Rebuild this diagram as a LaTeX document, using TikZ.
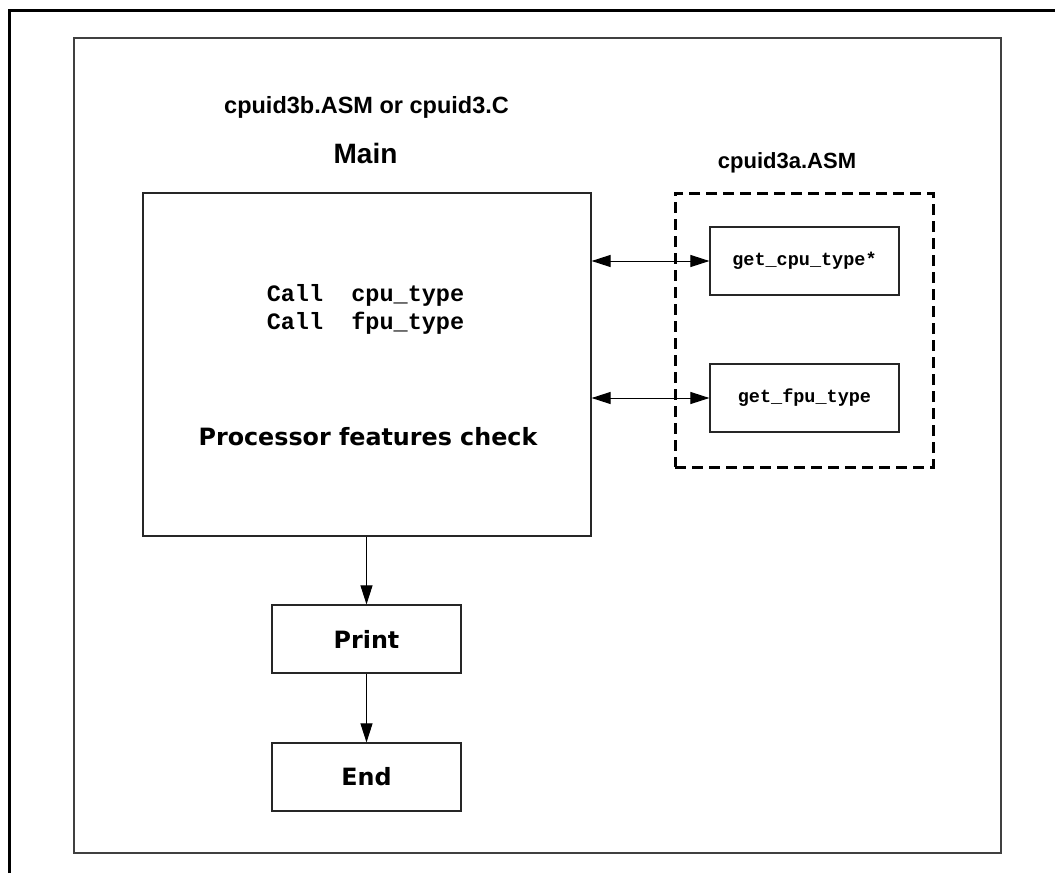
\documentclass[tikz,border=0pt]{standalone}
\usepackage{fontspec}
\setmainfont{Liberation Sans}
\setmonofont{Liberation Mono}
\newfontfamily\dvfont{DejaVu Sans}
\usetikzlibrary{arrows.meta}
\begin{document}
\begin{tikzpicture}[x=1pt,y=-1pt,
  box/.style={draw=black!85,line width=1.2pt,inner sep=0pt},
  flow/.style={draw,line width=1pt,-{Triangle[length=19pt,width=12pt]}},
  both/.style={draw,line width=1pt,{Triangle[length=19pt,width=12pt]}-{Triangle[length=19pt,width=12pt]}},
  title/.style={font=\fontsize{22}{25}\selectfont\bfseries},
  monotxt/.style={font=\fontsize{23.5}{28}\selectfont\ttfamily\bfseries,align=center},
  smallmono/.style={font=\fontsize{18.5}{22}\selectfont\ttfamily\bfseries},
  dvtxt/.style={font=\fontsize{23.8}{26}\selectfont\dvfont\bfseries}]
\useasboundingbox (0,0) rectangle (1055,873);
% outer partial frame
\draw[line width=3pt] (9,873) -- (9,10) -- (1055,10);
% inner frame
\draw[draw=black!75,line width=1.5pt] (74,38) rectangle (1001,853);
% titles
\node[font=\fontsize{23.5}{27}\selectfont\bfseries] (t1) at (366.5,107) {cpuid3b.ASM or cpuid3.C};
\node[font=\fontsize{28}{32}\selectfont\bfseries] (t2) at (365.5,153) {Main};
\node[title] (t3) at (787,163) {cpuid3a.ASM};
% main box
\node[box,minimum width=448pt,minimum height=343pt] (main) at (367,364.5) {};
\node[monotxt] (calls) at (365.5,309) {Call\ \ cpu\_type\\Call\ \ fpu\_type};
\node[dvtxt] (pfc) at (368,437) {Processor features check};
% dashed module box
\node[draw,line width=3pt,dash pattern=on 11pt off 6pt,minimum width=258pt,minimum height=274pt] (mod) at (804,330) {};
\node[box,minimum width=189pt,minimum height=68pt,smallmono] (cpu) at (804.5,261) {get\_cpu\_type*};
\node[box,minimum width=189pt,minimum height=68pt,smallmono] (fpu) at (804.5,398) {get\_fpu\_type};
% flow boxes
\node[box,minimum width=189pt,minimum height=68pt,dvtxt] (print) at (366.5,639) {Print};
\node[box,minimum width=189pt,minimum height=68pt,dvtxt] (end) at (366.5,777) {End};
% connectors
\draw[both] (cpu.west -| main.east) -- (cpu.west);
\draw[both] (fpu.west -| main.east) -- (fpu.west);
\draw[flow] (main.south -| print.north) -- (print.north);
\draw[flow] (print.south) -- (end.north);
\end{tikzpicture}
\end{document}
